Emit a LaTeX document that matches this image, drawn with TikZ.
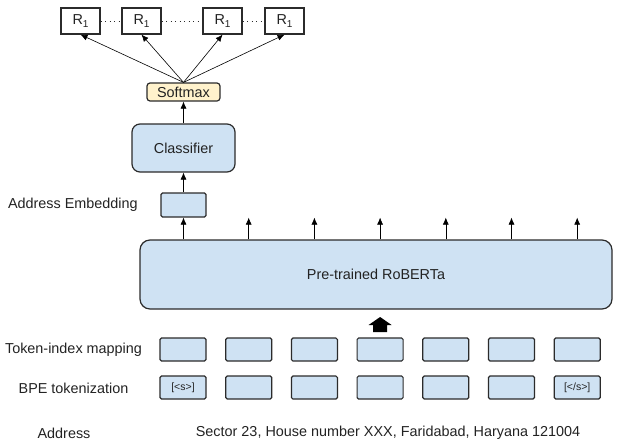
\documentclass[tikz,border=0pt]{standalone}
\usepackage{fontspec}
\setmainfont{Liberation Sans}
\usepackage{xcolor}
\usetikzlibrary{arrows.meta, positioning}

\definecolor{boxblue}{HTML}{CFE2F3}
\definecolor{boxyellow}{HTML}{FFF2CC}
\definecolor{boxline}{HTML}{2B2B2B}
\definecolor{textgray}{HTML}{222222}

\newcommand{\Rone}{R\raisebox{-0.35ex}{\fontsize{10}{10}\selectfont 1}}

\begin{document}
\begin{tikzpicture}[
    x = 1pt, y = -1pt, % pixel units, y grows downwards
    > = {Latex[length = 7pt, width = 6pt]}, % arrow head style
    semithick, % line style
    font = \fontsize{14.4}{17}\selectfont,
    text = textgray,
    token/.style={rectangle, draw = boxline, line width = 1.2pt, fill = boxblue,
      rounded corners = 1.5pt, minimum width = 46pt, minimum height = 23pt, inner sep = 0pt},
    rbox/.style={rectangle, draw = boxline, line width = 1.2pt, fill = white,
      minimum width = 39pt, minimum height = 26pt, inner sep = 0pt},
    bigbox/.style={rectangle, draw = boxline, line width = 1.2pt, fill = boxblue},
    caption/.style={inner sep = 0pt}
  ]

  \useasboundingbox (0,0) rectangle (621,442);

  % outputs
  \node[rbox] (r1) at (80.5,21) {\Rone};
  \node[rbox] (r2) at (141.5,21) {\Rone};
  \node[rbox] (r3) at (222.5,21) {\Rone};
  \node[rbox] (r4) at (284.5,21) {\Rone};
  \draw[boxline, line width = 1pt, dash pattern = on 1pt off 3.5pt] (r1) -- (r2);
  \draw[boxline, line width = 1pt, dash pattern = on 1pt off 3.5pt] (r2) -- (r3);
  \draw[boxline, line width = 1pt, dash pattern = on 1pt off 3.5pt] (r3) -- (r4);

  \node[bigbox, fill = boxyellow, rounded corners = 3pt, minimum width = 73pt,
    minimum height = 18pt, inner sep = 0pt] (soft) at (183.5,92) {Softmax};
  \node[bigbox, rounded corners = 8pt, minimum width = 103pt,
    minimum height = 48pt] (cls) at (183.5,148) {Classifier};
  \node[token, minimum width = 45pt, minimum height = 24pt] (emb) at (183.5,205) {};
  \node[caption, anchor = east] (embl) at (138,205) {Address Embedding};

  \node[bigbox, rounded corners = 10pt, minimum width = 472pt,
    minimum height = 69pt] (rob) at (376,274.5) {Pre-trained RoBERTa};

  % token-index mapping
  \node[token] (m1) at (183,349.5) {};
  \node[token] (m2) [right = 18.5pt of m1] {};
  \node[token] (m3) [right = 18.5pt of m2] {};
  \node[token] (m4) [right = 18.5pt of m3] {};
  \node[token] (m5) [right = 18.5pt of m4] {};
  \node[token] (m6) [right = 18.5pt of m5] {};
  \node[token] (m7) [right = 18.5pt of m6] {};
  \node[caption] (mapl) at (73.5,350) {Token-index mapping};

  % BPE tokens
  \node[token, font = \fontsize{10.5}{12}\selectfont] (b1) at (183,387.5) {[<s>]};
  \node[token] (b2) [right = 18.5pt of b1] {};
  \node[token] (b3) [right = 18.5pt of b2] {};
  \node[token] (b4) [right = 18.5pt of b3] {};
  \node[token] (b5) [right = 18.5pt of b4] {};
  \node[token] (b6) [right = 18.5pt of b5] {};
  \node[token, font = \fontsize{10.5}{12}\selectfont] (b7) [right = 18.5pt of b6] {[</s>]};
  \node[caption] (bpel) at (73.5,388) {BPE tokenization};

  \node[caption] (addrl) at (64,433) {Address};
  \node[caption] (addr) at (388,433) {Sector 23, House number XXX, Faridabad, Haryana 121004};

  % block arrow into the encoder
  \coordinate (feed) at (m4.north |- 0,324.5);
  \fill[black, shift = {(feed)}] (0,-7.5) -- (11.5,0.5) -- (7,0.5) -- (7,7.5)
    -- (-7,7.5) -- (-7,0.5) -- (-11.5,0.5) -- cycle;

  \coordinate (o2) at (emb.south -| m2);
  \coordinate (o3) at (emb.south -| m3);
  \coordinate (o4) at (emb.south -| m4);
  \coordinate (o5) at (emb.south -| m5);
  \coordinate (o6) at (emb.south -| m6);
  \coordinate (o7) at (emb.south -| m7);

  \draw[->] (rob.north -| emb) -- (emb.south);
  \draw[->] (rob.north -| m2) -- (o2);
  \draw[->] (rob.north -| m3) -- (o3);
  \draw[->] (rob.north -| m4) -- (o4);
  \draw[->] (rob.north -| m5) -- (o5);
  \draw[->] (rob.north -| m6) -- (o6);
  \draw[->] (rob.north -| m7) -- (o7);
  \draw[->] (emb.north) -- (cls.south);
  \draw[->] (cls.north) -- (soft.south);
  \draw[->] (soft.north) -- (r1.south);
  \draw[->] (soft.north) -- (r2.south);
  \draw[->] (soft.north) -- (r3.south);
  \draw[->] (soft.north) -- (r4.south);
\end{tikzpicture}
\end{document}
